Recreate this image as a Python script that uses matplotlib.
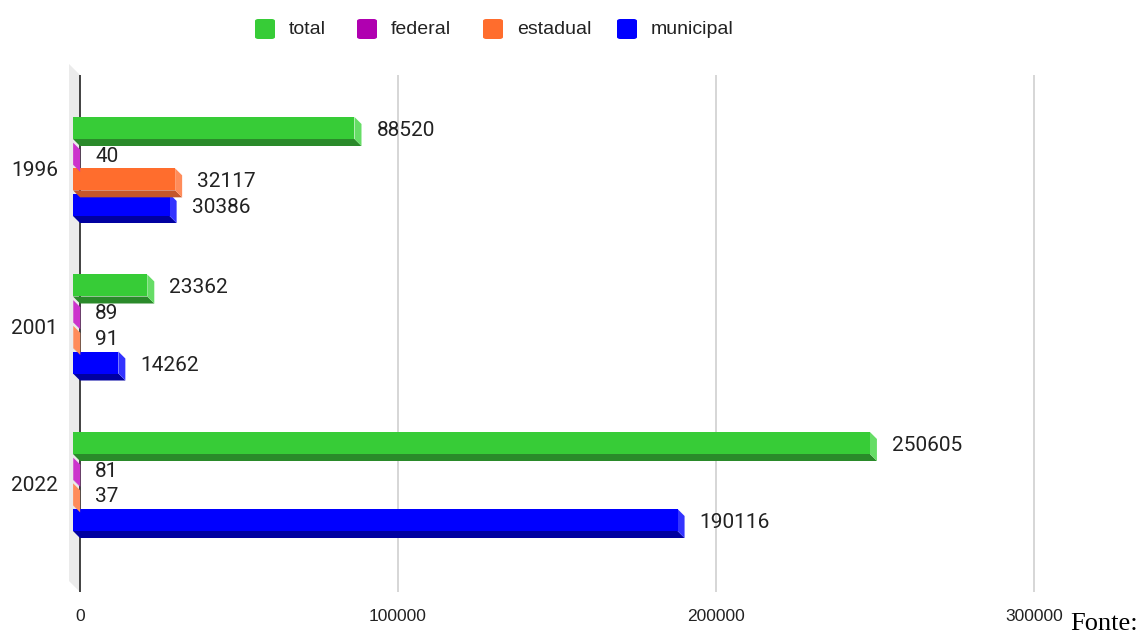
import matplotlib
matplotlib.use("Agg")
import matplotlib.pyplot as plt
from matplotlib.patches import Polygon, FancyBboxPatch

# valores por ano e esfera administrativa
anos = ['1996', '2001', '2022']
series = ['total', 'federal', 'estadual', 'municipal']
total = [88520, 23362, 250605]
federal = [40, 89, 81]
estadual = [32117, 91, 37]
municipal = [30386, 14262, 190116]
ticks_x = [0, 100000, 200000, 300000]

# cores: frente, base (sombra) e lateral
cores = {
    'total': ('#37cc37', '#2a8a2a', '#66dd66'),
    'federal': ('#b000b0', '#8a108a', '#cc33cc'),
    'estadual': ('#ff6d2d', '#c4562a', '#ff8c5a'),
    'municipal': ('#0000ff', '#0000a0', '#3333ff'),
}
valores = {'total': total, 'federal': federal, 'estadual': estadual, 'municipal': municipal}

W, H = 1142, 632
fig = plt.figure(figsize=(W / 100, H / 100), dpi=100)
ax = fig.add_axes([69 / W, 1 - 592 / H, (1100 - 69) / W, (592 - 64) / H])

# escala: unidades de dado por pixel
XPX = 100000 / 318
YPX = 1 / 157.5
Y0 = 166.5


def py(p):
    return (p - Y0) * YPX


ax.set_xlim(-11 * XPX, (1100 - 80) * XPX)
ax.set_ylim(py(592), py(64))
for s in ax.spines.values():
    s.set_visible(False)

# parede lateral cinza
parede = Polygon([(-11 * XPX, py(64)), (0, py(75)), (0, py(592)), (-11 * XPX, py(581))],
                 closed=True, facecolor='#ebebeb', edgecolor='none', zorder=0)
ax.add_patch(parede)
ax.vlines(ticks_x[1:], py(75), py(592), color='#cccccc', lw=1.1, zorder=1)
ax.vlines(0, py(75), py(592), color='#333333', lw=1.3, zorder=1)

D = 7 * XPX      # profundidade horizontal
DY = 7 * YPX     # profundidade vertical
h = 11 * YPX     # meia altura da frente
passo = 25.67 * YPX

for g in range(len(anos)):
    for k, nome in enumerate(series):
        v = valores[nome][g]
        c = g + (k - 1.5) * passo
        frente, base, lado = cores[nome]
        z = 10 - k
        x0 = -D
        x1 = -D + v
        ax.add_patch(Polygon([(x0, c + h), (x1, c + h), (v, c + h + DY), (0, c + h + DY)],
                             closed=True, facecolor=base, edgecolor='none', zorder=z))
        ax.add_patch(Polygon([(x1, c - h), (v, c - h + DY), (v, c + h + DY), (x1, c + h)],
                             closed=True, facecolor=lado, edgecolor='none', zorder=z))
        ax.add_patch(Polygon([(x0, c - h), (x1, c - h), (x1, c + h), (x0, c + h)],
                             closed=True, facecolor=frente, edgecolor='none', zorder=z))
        ax.text(v + 15 * XPX, c + 2.5 * YPX, str(v), ha='left', va='center', fontsize=15,
                family='Roboto', color='#222222', zorder=20)

ax.set_yticks([g + 2 * YPX for g in range(len(anos))], anos)
ax.set_xticks(ticks_x, [str(t) for t in ticks_x])
ax.tick_params(axis='y', length=0, pad=8, labelsize=15, labelcolor='#222222')
ax.tick_params(axis='x', length=0, pad=12, labelsize=12.5, labelcolor='#222222')
for lab in ax.get_yticklabels():
    lab.set_family('Roboto')
for lab in ax.get_xticklabels():
    lab.set_family('Liberation Sans')

# legenda desenhada manualmente no topo
leg_x = [255, 357, 483, 617]
for nome, lx in zip(series, leg_x):
    cor = cores[nome][0]
    fig.patches.append(FancyBboxPatch((lx / W, 1 - 39 / H), 20 / W, 20 / H,
                                      boxstyle='round,pad=0,rounding_size=0.003',
                                      transform=fig.transFigure, facecolor=cor,
                                      edgecolor='none'))
    fig.text((lx + 34) / W, 1 - 30 / H, nome, ha='left', va='center', fontsize=14,
             family='Liberation Sans', color='#222222')

fig.text(1070 / W, 1.5 / H, 'Fonte:', ha='left', va='baseline', fontsize=19,
         family='Liberation Serif', color='#000000')

fig.savefig('out.png', dpi=100)
